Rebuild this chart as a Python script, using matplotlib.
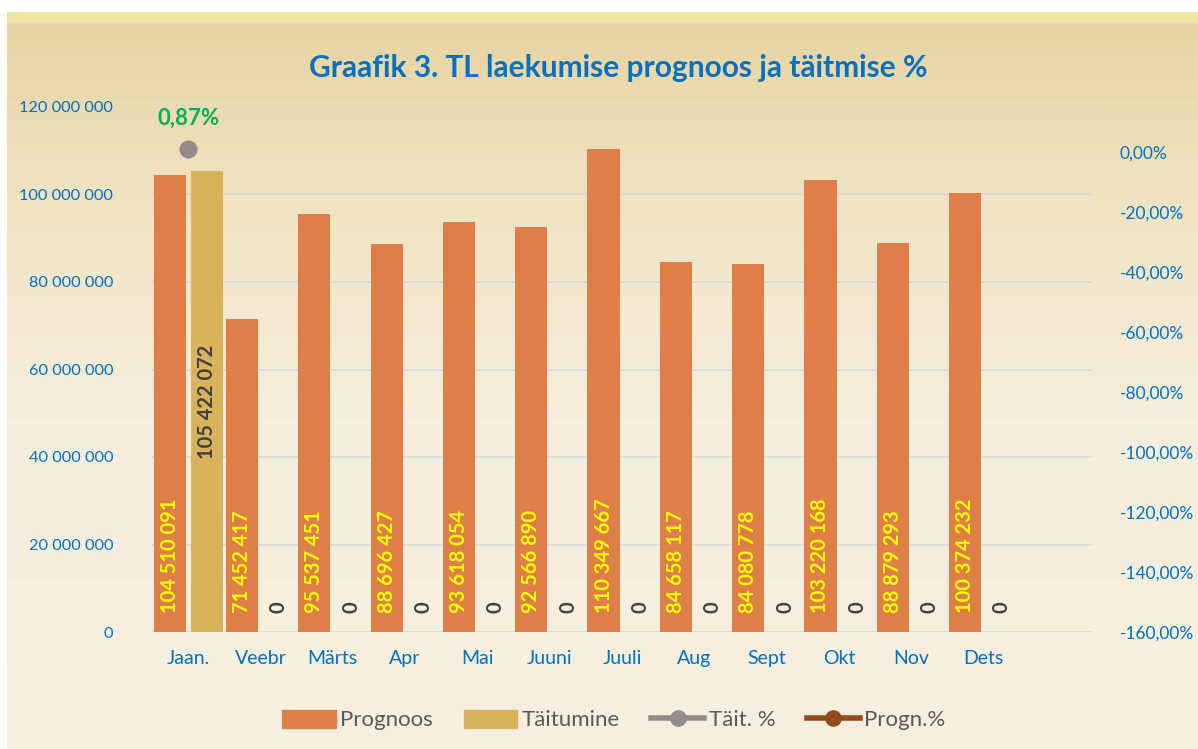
import numpy as np
import matplotlib
matplotlib.use('Agg')
import matplotlib.pyplot as plt
from matplotlib.colors import LinearSegmentedColormap
from matplotlib.lines import Line2D
from matplotlib.patches import Patch, Rectangle

plt.rcParams['font.family'] = ['Lato', 'DejaVu Sans']

# andmed
months = ['Jaan.', 'Veebr', 'Märts', 'Apr', 'Mai', 'Juuni', 'Juuli', 'Aug',
          'Sept', 'Okt', 'Nov', 'Dets']
prognoos = [104510091, 71452417, 95537451, 88696427, 93618054, 92566890,
            110349667, 84658117, 84080778, 103220168, 88879293, 100374232]
taitumine = [105422072, 0, 0, 0, 0, 0, 0, 0, 0, 0, 0, 0]
tait_pct = [0.87] + [np.nan] * 11
progn_pct = [np.nan] * 12

BLUE = '#0070C0'
C_PROG = '#DE7F47'
C_TAIT = '#D8B35C'
C_TPCT = '#968B8B'
C_PPCT = '#964B1E'

fig = plt.figure(figsize=(11.98, 7.49), dpi=100)
fig.patch.set_facecolor('white')

# taust (gradient)
bg = fig.add_axes([7 / 1198, 0, 1 - 7 / 1198, 1 - 12 / 749], zorder=-10)
cmap = LinearSegmentedColormap.from_list(
    'bg', [(0, '#F7F0E0'), (0.45, '#F6EEDC'), (0.75, '#F0E3C3'), (1, '#E8D29E')])
grad = np.linspace(0, 1, 256).reshape(-1, 1)
bg.imshow(grad, aspect='auto', cmap=cmap, origin='lower', extent=[0, 1, 0, 1])
bg.add_patch(Rectangle((0, 1 - 11 / 737), 1, 11 / 737, color='#F3E3A6', lw=0))
bg.axhline(1 - 11 / 737, color='#DADADA', lw=1.2)
bg.set_xlim(0, 1)
bg.set_ylim(0, 1)
bg.axis('off')

ax = fig.add_axes([152 / 1198, 1 - 632 / 749, (1092 - 152) / 1198, (632 - 107) / 749])
ax.set_facecolor('none')

x = np.arange(len(months))
w = 0.445
off = 0.255
ax.bar(x - off, prognoos, w, color=C_PROG, zorder=3)
ax.bar(x + off, taitumine, w, color=C_TAIT, zorder=3)

ax.set_xlim(-0.5, 12.5)
ax.set_ylim(0, 120e6)
ax.set_yticks(np.arange(0, 120e6 + 1, 20e6))
ax.set_yticklabels([f'{int(v):,}'.replace(',', ' ') for v in np.arange(0, 120e6 + 1, 20e6)])
ax.yaxis.grid(True, color='#D9D9D9', lw=1.3, zorder=0)
ax.set_axisbelow(True)
for s in ax.spines.values():
    s.set_visible(False)
ax.set_xticks(x)
ax.set_xticklabels(months)
ax.tick_params(axis='both', length=0, colors=BLUE)
ax.tick_params(axis='x', pad=13, labelsize=14)
ax.tick_params(axis='y', pad=28, labelsize=11.8)

# väärtused tulpadel
for xi, v in zip(x, prognoos):
    ax.annotate(f'{v:,}'.replace(',', ' '), xy=(xi - off, 0), xytext=(0, 14),
                textcoords='offset points', rotation=90, ha='center', va='bottom',
                color='#FFFF00', fontsize=14.5, fontweight='bold', zorder=5)
for xi, v in zip(x, taitumine):
    if v > 0:
        ax.text(xi + off, v / 2, f'{v:,}'.replace(',', ' '), rotation=90,
                ha='center', va='center', color='#404040', fontsize=14.5,
                fontweight='bold', zorder=5)
    else:
        ax.annotate('0', xy=(xi + off, 0), xytext=(0, 14),
                    textcoords='offset points', rotation=90, ha='center',
                    va='bottom', color='#404040', fontsize=14.5,
                    fontweight='bold', zorder=5)

# protsendid paremal teljel
ax2 = ax.twinx()
ax2.set_ylim(-160, 15)
ax2.set_yticks(np.arange(-160, 1, 20))
ax2.set_yticklabels([f'{v:.2f}%'.replace('.', ',') for v in np.arange(-160, 1, 20)])
ax2.tick_params(axis='y', length=0, colors=BLUE, labelsize=12.5, pad=20)
for s in ax2.spines.values():
    s.set_visible(False)
ax2.plot(x, tait_pct, color=C_TPCT, lw=3, marker='o', ms=12, zorder=6)
ax2.plot(x, progn_pct, color=C_PPCT, lw=3, marker='o', ms=12, zorder=6)
for xi, v in zip(x, tait_pct):
    if not np.isnan(v):
        ax2.annotate(f'{v:.2f}%'.replace('.', ','), xy=(xi, v), xytext=(0, 15),
                     textcoords='offset points', ha='center', va='bottom',
                     color='#00B050', fontsize=16, fontweight='bold')

fig.text(618 / 1198, 1 - 68 / 749, 'Graafik 3. TL laekumise prognoos ja täitmise %',
         ha='center', va='center', color=BLUE, fontsize=21.5, fontweight='bold')

handles = [
    Patch(color=C_PROG, label='Prognoos'),
    Patch(color=C_TAIT, label='Täitumine'),
    Line2D([], [], color=C_TPCT, lw=4, marker='o', ms=11, label='Täit. %'),
    Line2D([], [], color=C_PPCT, lw=4, marker='o', ms=11, label='Progn.%'),
]
leg = fig.legend(handles=handles, loc='center', bbox_to_anchor=(614 / 1198, 1 - 720 / 749),
                 ncol=4, frameon=False, fontsize=16, handlelength=2.4,
                 handleheight=0.9, columnspacing=1.4, handletextpad=0.2)
for t in leg.get_texts():
    t.set_color('#595959')

fig.savefig('out.png', dpi=100)
